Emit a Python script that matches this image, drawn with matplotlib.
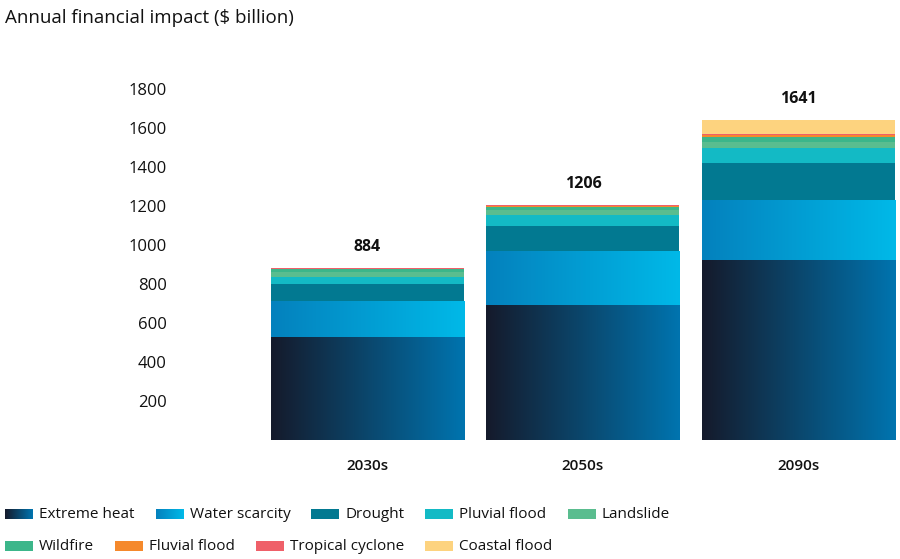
import numpy as np
import matplotlib
matplotlib.use("Agg")
import matplotlib.pyplot as plt
from matplotlib.colors import LinearSegmentedColormap
from matplotlib.patches import Rectangle

plt.rcParams['font.family'] = ['Open Sans', 'DejaVu Sans']

# data ($ billion)
periods = ['2030s', '2050s', '2090s']
hazards = ['Extreme heat', 'Water scarcity', 'Drought', 'Pluvial flood', 'Landslide',
           'Wildfire', 'Fluvial flood', 'Tropical cyclone', 'Coastal flood']
extreme_heat = [528, 695, 925]
water_scarcity = [184, 273, 307]
drought = [89, 130, 191]
pluvial_flood = [34, 56, 74]
landslide = [25, 28, 32]
wildfire = [15, 14, 25]
fluvial_flood = [5, 7, 11]
tropical_cyclone = [4, 3, 4]
coastal_flood = [0, 0, 72]
yticks = [200, 400, 600, 800, 1000, 1200, 1400, 1600, 1800]

series = [extreme_heat, water_scarcity, drought, pluvial_flood, landslide,
          wildfire, fluvial_flood, tropical_cyclone, coastal_flood]
# plain colour, or (left, right) for a horizontal gradient
colors = [('#151a2b', '#0074af'), ('#0481bd', '#00b9e8'), '#027991', '#13bac5',
          '#5abd8f', '#3cb68a', '#f5892c', '#ef6069', '#fdd37f']

W, H = 900, 559
fig = plt.figure(figsize=(W / 100, H / 100), dpi=100)
ax = fig.add_axes([175 / W, 1 - 440 / H, 720 / W, 380 / H])

bar_w = 0.896
x = np.arange(len(periods))
bottom = np.zeros(len(periods))
for vals, col in zip(series, colors):
    vals = np.array(vals, dtype=float)
    for i in range(len(periods)):
        if vals[i] <= 0:
            continue
        x0, x1 = x[i] - bar_w / 2, x[i] + bar_w / 2
        y0, y1 = bottom[i], bottom[i] + vals[i]
        if isinstance(col, tuple):
            cmap = LinearSegmentedColormap.from_list('g', list(col))
            ax.imshow(np.linspace(0, 1, 256).reshape(1, -1), cmap=cmap, aspect='auto',
                      extent=[x0, x1, y0, y1], interpolation='bilinear', zorder=2)
        else:
            ax.add_patch(Rectangle((x0, y0), bar_w, vals[i], facecolor=col,
                                   edgecolor='none', zorder=2))
    bottom += vals

for i, tot in enumerate(bottom):
    ax.annotate(f'{int(tot)}', (x[i], tot), xytext=(0, 15), textcoords='offset points',
                ha='center', va='center', fontsize=11.5, fontweight='bold', color='#111111')

ax.set_xlim(-0.893, 2.448)
ax.set_ylim(0, 1950)
ax.set_xticks(x)
ax.set_xticklabels(periods, fontsize=11, fontweight='semibold', color='#111111')
ax.set_yticks(yticks)
ax.set_yticklabels([str(v) for v in yticks], fontsize=12, color='#111111')
ax.tick_params(axis='both', length=0)
ax.tick_params(axis='x', pad=14)
ax.tick_params(axis='y', pad=6)
for s in ax.spines.values():
    s.set_visible(False)

fig.text(5 / W, 1 - 18 / H, 'Annual financial impact ($ billion)', fontsize=13.5,
         ha='left', va='center', color='#111111')

# legend laid out in two flowing rows, pixel coordinates
lax = fig.add_axes([0, 0, 1, 1])
lax.set_xlim(0, W)
lax.set_ylim(H, 0)
lax.axis('off')
renderer = fig.canvas.get_renderer()
rows = [(514, range(0, 5)), (546, range(5, 9))]
for yc, idxs in rows:
    xp = 5
    for k in idxs:
        col = colors[k]
        if isinstance(col, tuple):
            cmap = LinearSegmentedColormap.from_list('g', list(col))
            lax.imshow(np.linspace(0, 1, 64).reshape(1, -1), cmap=cmap, aspect='auto',
                       extent=[xp, xp + 28, yc + 5, yc - 5], interpolation='bilinear')
        else:
            lax.add_patch(Rectangle((xp, yc - 5), 28, 10, facecolor=col, edgecolor='none'))
        t = lax.text(xp + 34, yc, hazards[k], fontsize=11, ha='left', va='center',
                     color='#111111')
        bb = t.get_window_extent(renderer)
        xp = bb.x1 + 21
lax.set_xlim(0, W)
lax.set_ylim(H, 0)

fig.savefig('out.png', dpi=100)
